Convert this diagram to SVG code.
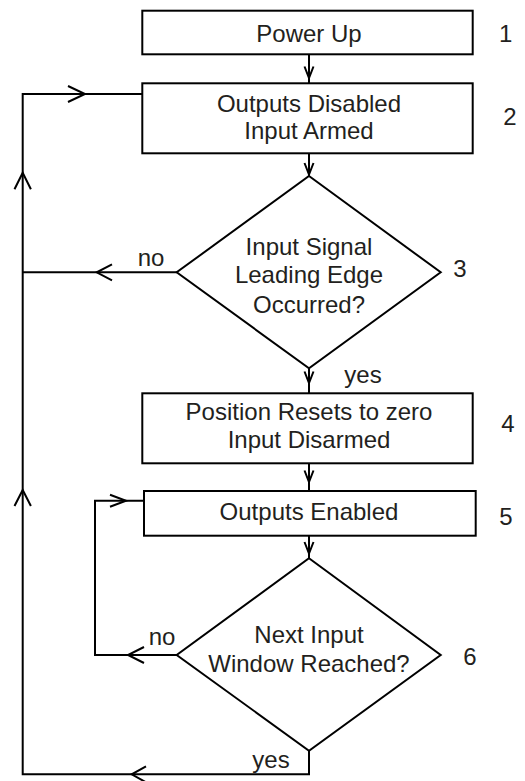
<svg xmlns="http://www.w3.org/2000/svg" width="525" height="781" viewBox="0 0 525 781">
<style>
.box{fill:#fff;stroke:#000;stroke-width:2}
.ln{fill:none;stroke:#000;stroke-width:2}
.ah{fill:none;stroke:#000;stroke-width:2}
.t{font-family:"Liberation Sans",Arial,Helvetica,sans-serif;font-size:24px;fill:#231f20;text-anchor:middle}
</style>
<rect width="525" height="781" fill="#fff"/>
<g id="connectors">
<path class="ln" d="M309 54.3V83.3"/>
<path class="ah" d="M304.5 66.5L309 78L313.5 66.5"/>
<path class="ln" d="M309 153.3V176"/>
<path class="ah" d="M304.5 163L309 174.5L313.5 163"/>
<path class="ln" d="M309 368V393.3"/>
<path class="ah" d="M304.5 371.5L309 383L313.5 371.5"/>
<path class="ln" d="M309 463.3V491"/>
<path class="ah" d="M304.5 470.5L309 482L313.5 470.5"/>
<path class="ln" d="M309 535.7V558"/>
<path class="ah" d="M304.5 542L309 553.5L313.5 542"/>
<path class="ln" d="M177 272.3H22.7"/>
<path class="ah" d="M112 264.3L96.7 272.3L112 280.3"/>
<path class="ln" d="M309 750.7V774.3H22.7V94H142.3"/>
<path class="ah" d="M68 86L85 94L68 102"/>
<path class="ah" d="M14.5 189.3L22.7 172.7L30.9 189.3"/>
<path class="ah" d="M14.5 506L22.7 490L30.9 506"/>
<path class="ah" d="M146 766.3L131.7 774.3L146 782.3"/>
<path class="ln" d="M177 655H95V500.7H144"/>
<path class="ah" d="M144 647L128 655L144 663"/>
<path class="ah" d="M110 494.7L126 500.7L110 506.7"/>
</g>
<g id="n1">
<rect class="box" x="142.3" y="10.7" width="330.4" height="43.6"/>
<text class="t" x="309" y="41.5">Power Up</text>
<text class="t" x="505.6" y="41.5">1</text>
</g>
<g id="n2">
<rect class="box" x="142.3" y="83.3" width="330.4" height="70"/>
<text class="t" x="309" y="112.3">Outputs Disabled</text>
<text class="t" x="309" y="139.3">Input Armed</text>
<text class="t" x="510" y="125">2</text>
</g>
<g id="n3">
<polygon class="box" points="309,176 440.7,272.3 309,368.3 176.7,272.3"/>
<text class="t" x="309" y="255">Input Signal</text>
<text class="t" x="309" y="283.3">Leading Edge</text>
<text class="t" x="309" y="312.7">Occurred?</text>
<text class="t" x="460" y="277.3">3</text>
<text class="t" x="151" y="266">no</text>
<text class="t" x="363" y="383">yes</text>
</g>
<g id="n4">
<rect class="box" x="142.3" y="393.3" width="330.4" height="70"/>
<text class="t" x="309" y="420">Position Resets to zero</text>
<text class="t" x="309" y="448.3">Input Disarmed</text>
<text class="t" x="508" y="431.7">4</text>
</g>
<g id="n5">
<rect class="box" x="144" y="491" width="331.7" height="44.7"/>
<text class="t" x="309" y="520">Outputs Enabled</text>
<text class="t" x="506" y="525">5</text>
</g>
<g id="n6">
<polygon class="box" points="309,558.3 440.7,655 309,750.7 176.7,655"/>
<text class="t" x="309" y="643.3">Next Input</text>
<text class="t" x="309" y="671.7">Window Reached?</text>
<text class="t" x="470" y="665">6</text>
<text class="t" x="162" y="645">no</text>
<text class="t" x="271" y="767.5">yes</text>
</g>
</svg>
